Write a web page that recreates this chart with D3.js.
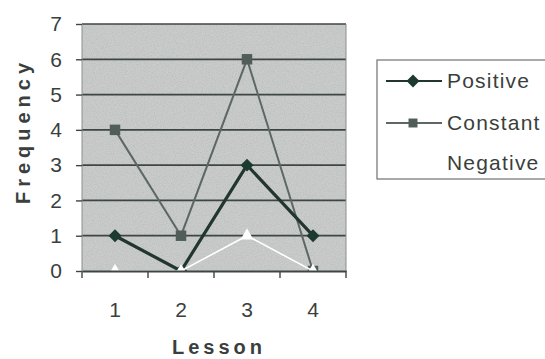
<!DOCTYPE html>
<html>
<head>
<meta charset="utf-8">
<script src="https://cdn.jsdelivr.net/npm/d3@7/dist/d3.min.js"></script>
<style>
  html, body { margin: 0; padding: 0; background: #ffffff; }
  svg { display: block; }
</style>
</head>
<body>
<div id="chart"></div>
<script>
// Frequency of attitude change per lesson
const lessons = ["1", "2", "3", "4"];
const positive = [1, 0, 3, 1];
const constant = [4, 1, 6, 0];
const negative = [0, 0, 1, 0];
const yTicks = [0, 1, 2, 3, 4, 5, 6, 7];
const seriesNames = ["Positive", "Constant", "Negative"];

const W = 545, H = 359;
const plot = { left: 82, right: 346, top: 24, bottom: 271 };
const FONT = "'Liberation Sans', Arial, sans-serif";
const INK = "#3a3f3d";

const svg = d3.select("#chart").append("svg")
  .attr("width", W).attr("height", H)
  .style("font-family", FONT);

const defs = svg.append("defs");
// grainy fill for the plot area
const grain = defs.append("filter").attr("id", "grain")
  .attr("x", 0).attr("y", 0).attr("width", 1).attr("height", 1);
grain.append("feTurbulence").attr("type", "fractalNoise")
  .attr("baseFrequency", 0.9).attr("numOctaves", 2).attr("seed", 3).attr("result", "n");
grain.append("feColorMatrix").attr("in", "n").attr("type", "matrix")
  .attr("values", "0 0 0 0 0.35  0 0 0 0 0.38  0 0 0 0 0.37  0 0 0 -1.2 0.75");
// markers are clipped to the plot area
defs.append("clipPath").attr("id", "plotClip").append("rect")
  .attr("x", plot.left - 10).attr("y", plot.top - 10)
  .attr("width", plot.right - plot.left + 20).attr("height", plot.bottom - plot.top + 10);

const x = d3.scaleBand().domain(lessons).range([plot.left, plot.right]);
const y = d3.scaleLinear().domain([0, 7]).range([plot.bottom, plot.top]);

svg.append("rect")
  .attr("x", plot.left).attr("y", plot.top)
  .attr("width", plot.right - plot.left).attr("height", plot.bottom - plot.top)
  .attr("fill", "#c9ccca");
svg.append("rect")
  .attr("x", plot.left).attr("y", plot.top)
  .attr("width", plot.right - plot.left).attr("height", plot.bottom - plot.top)
  .attr("filter", "url(#grain)").attr("opacity", 0.6);

// horizontal gridlines
svg.append("g").selectAll("line").data(yTicks.filter(t => t > 0)).join("line")
  .attr("x1", plot.left).attr("x2", plot.right)
  .attr("y1", d => y(d)).attr("y2", d => y(d))
  .attr("stroke", "#3e4643").attr("stroke-width", 1.7);

// plot border (light)
[plot.left, plot.right].forEach(px => {
  svg.append("line").attr("x1", px).attr("x2", px)
    .attr("y1", plot.top).attr("y2", plot.bottom).attr("stroke", "#8a908d").attr("stroke-width", 1);
});

// y axis
const yAxis = svg.append("g").attr("transform", `translate(${plot.left},0)`)
  .call(d3.axisLeft(y).tickValues(yTicks).tickSize(6).tickPadding(14).tickFormat(d3.format("d")));
yAxis.select(".domain").remove();
yAxis.selectAll(".tick line").attr("stroke", "#3e4643").attr("stroke-width", 1.4);
yAxis.selectAll("text").attr("font-family", FONT).attr("font-size", 21).attr("fill", INK);

// axis titles
svg.append("text").attr("x", 219).attr("y", 354).attr("text-anchor", "middle")
  .attr("font-size", 20).attr("font-weight", "bold").attr("letter-spacing", 4)
  .attr("fill", INK).text("Lesson");
svg.append("text").attr("transform", "translate(30,131) rotate(-90)")
  .attr("text-anchor", "middle").attr("font-size", 20).attr("font-weight", "bold")
  .attr("letter-spacing", 5).attr("fill", INK).text("Frequency");

const cx = d => x(d) + x.bandwidth() / 2;
const line = vals => d3.line().x((v, i) => cx(lessons[i])).y(v => y(v))(vals);

// diamond drawn as a square turned 45 degrees
const diamond = {
  draw(ctx, size) {
    const r = Math.sqrt(size / 2);
    ctx.moveTo(0, -r); ctx.lineTo(r, 0); ctx.lineTo(0, r); ctx.lineTo(-r, 0); ctx.closePath();
  }
};

const series = [
  { name: "Positive", values: positive, color: "#22352f", width: 3.2, symbol: diamond, size: 84, fill: "#1d3a31" },
  { name: "Constant", values: constant, color: "#5d6763", width: 2, symbol: d3.symbolSquare, size: 110, fill: "#505d59" },
  { name: "Negative", values: negative, color: "#ffffff", width: 1.6, symbol: d3.symbolTriangle, size: 70, fill: "#ffffff" }
];

const marks = svg.append("g").attr("clip-path", "url(#plotClip)");
const drawSeries = s => {
  marks.append("path").attr("d", line(s.values)).attr("fill", "none")
    .attr("stroke", s.color).attr("stroke-width", s.width).attr("stroke-linejoin", "miter");
  marks.append("g").selectAll("path").data(s.values).join("path")
    .attr("transform", (v, i) => `translate(${cx(lessons[i])},${y(v)})`)
    .attr("d", d3.symbol().type(s.symbol).size(s.size))
    .attr("fill", s.fill);
};
drawSeries(series[1]);
drawSeries(series[0]);
drawSeries(series[2]);

// x axis with tick marks on band boundaries, drawn over the series
const xAxisG = svg.append("g").attr("transform", `translate(0,${plot.bottom})`)
  .call(d3.axisBottom(x).tickSize(0).tickPadding(31));
xAxisG.select(".domain").attr("stroke", "#3e4643").attr("stroke-width", 2);
xAxisG.selectAll("text").attr("font-family", FONT).attr("font-size", 21).attr("fill", INK);
const bounds = lessons.map(d => x(d)).concat([x(lessons[lessons.length - 1]) + x.bandwidth()]);
xAxisG.selectAll(".bound").data(bounds).join("line").attr("class", "bound")
  .attr("x1", d => d).attr("x2", d => d).attr("y1", 0).attr("y2", 7)
  .attr("stroke", "#3e4643").attr("stroke-width", 1.4);

// legend
const lg = svg.append("g");
lg.append("rect").attr("x", 377).attr("y", 60).attr("width", 190).attr("height", 119)
  .attr("fill", "#ffffff").attr("stroke", "#6c7370").attr("stroke-width", 1.2);
const legendRows = [81, 123, 163];
series.forEach((s, i) => {
  const ly = legendRows[i];
  lg.append("line").attr("x1", 386).attr("x2", 442).attr("y1", ly).attr("y2", ly)
    .attr("stroke", s.color).attr("stroke-width", s.name === "Positive" ? 2.2 : 1.8);
  lg.append("path").attr("transform", `translate(413,${ly})`)
    .attr("d", d3.symbol().type(s.symbol).size(s.name === "Constant" ? 80 : s.size)).attr("fill", s.fill);
  lg.append("text").attr("x", 447).attr("y", ly + 7).attr("font-size", 21)
    .attr("letter-spacing", 1.2).attr("fill", INK).text(seriesNames[i]);
});
</script>
</body>
</html>
